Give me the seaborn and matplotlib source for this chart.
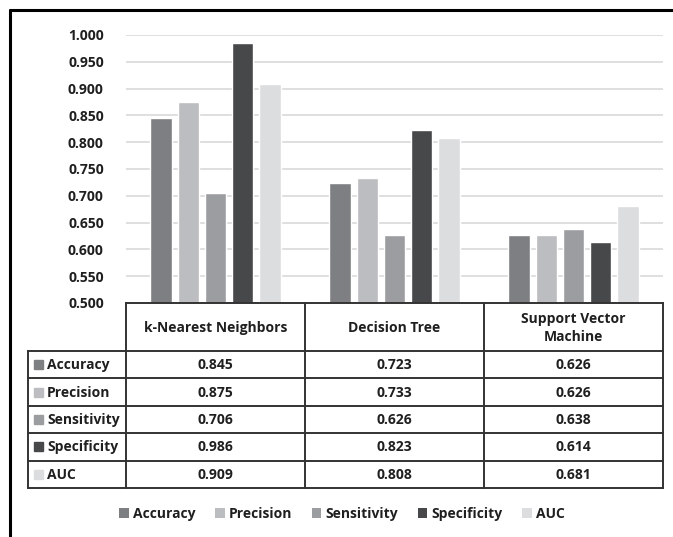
import matplotlib
matplotlib.use("Agg")
import matplotlib.pyplot as plt
from matplotlib.patches import Patch, Rectangle
from matplotlib.lines import Line2D
import seaborn as sns
import pandas as pd

# Model results
models = ["k-Nearest Neighbors", "Decision Tree", "Support Vector Machine"]
model_headers = ["k-Nearest Neighbors", "Decision Tree", "Support Vector\nMachine"]
metrics = ["Accuracy", "Precision", "Sensitivity", "Specificity", "AUC"]
accuracy = [0.845, 0.723, 0.626]
precision = [0.875, 0.733, 0.626]
sensitivity = [0.706, 0.626, 0.638]
specificity = [0.986, 0.823, 0.614]
auc = [0.909, 0.808, 0.681]
y_ticks = [0.500, 0.550, 0.600, 0.650, 0.700, 0.750, 0.800, 0.850, 0.900, 0.950, 1.000]

colors = ["#7e7f82", "#bcbdc0", "#9c9da0", "#47484a", "#dcdddf"]
TXT = "#1f1f1f"
LINE = "#333333"
FS = 10

values = {"Accuracy": accuracy, "Precision": precision, "Sensitivity": sensitivity,
          "Specificity": specificity, "AUC": auc}
rows = []
for m in metrics:
    for i, mod in enumerate(models):
        rows.append({"Model": mod, "Metric": m, "Value": values[m][i]})
df = pd.DataFrame(rows)

sns.set_theme(style="white")
plt.rcParams["font.family"] = ["Open Sans", "DejaVu Sans"]
plt.rcParams["font.weight"] = "bold"

W, H = 673, 537
fig = plt.figure(figsize=(W / 100, H / 100), dpi=100)

def fbox(x0, y0, x1, y1):
    # pixel box (top-left origin) -> figure fraction rect
    return [x0 / W, 1 - y1 / H, (x1 - x0) / W, (y1 - y0) / H]

ax = fig.add_axes(fbox(126, 35, 663, 303))
sns.barplot(data=df, x="Model", y="Value", hue="Metric", order=models,
            hue_order=metrics, palette=colors, width=0.76, gap=0.22,
            saturation=1, legend=False, ax=ax)
ax.set_ylim(0.5, 1.0)
ax.set_xlim(-0.5, 2.5)
ax.set_yticks(y_ticks)
ax.set_yticklabels([f"{t:.3f}" for t in y_ticks], fontsize=FS, fontweight="bold", color=TXT)
ax.set_xticks([])
ax.set_xlabel("")
ax.set_ylabel("")
ax.tick_params(axis="y", length=0, pad=16)
ax.yaxis.grid(True, color="#d9d9d9", linewidth=1.2)
ax.set_axisbelow(True)
for s in ax.spines.values():
    s.set_visible(False)

# Data table beneath the bars
label_w = 98 / 179  # width of the row-label column in category units
header_h = 48
row_h = 27.4
tab = fig.add_axes(fbox(28, 303, 663, 303 + header_h + row_h * len(metrics)))
tab.set_xlim(-0.5 - label_w, 2.5)
tab.set_ylim(header_h + row_h * len(metrics), 0)
tab.axis("off")
xl = -0.5 - label_w
bottom = header_h + row_h * len(metrics)
lk = dict(color=LINE, linewidth=1.4, solid_capstyle="projecting", clip_on=False)
tab.plot([-0.5, 2.5], [0, 0], **lk)
for xb in [-0.5, 0.5, 1.5, 2.5]:
    tab.plot([xb, xb], [0, bottom], **lk)
tab.plot([xl, xl], [header_h, bottom], **lk)
for r in range(len(metrics) + 1):
    yb = header_h + r * row_h
    tab.plot([xl, 2.5], [yb, yb], **lk)
for i, h in enumerate(model_headers):
    tab.text(i, header_h / 2 + 1, h, ha="center", va="center", fontsize=FS,
             fontweight="bold", color=TXT, linespacing=1.35)
for r, m in enumerate(metrics):
    yc = header_h + (r + 0.5) * row_h
    tab.add_patch(Rectangle((xl + 6 / 179, yc - 4.5), 8.5 / 179, 9, color=colors[r],
                            clip_on=False))
    tab.text(xl + 19 / 179, yc + 0.5, m, ha="left", va="center", fontsize=FS,
             fontweight="bold", color=TXT)
    for i in range(len(models)):
        tab.text(i, yc + 0.5, f"{values[m][i]:.3f}", ha="center", va="center",
                 fontsize=FS, fontweight="bold", color=TXT)

# Legend
handles = [Patch(facecolor=c, edgecolor="none", label=m) for m, c in zip(metrics, colors)]
fig.legend(handles=handles, loc="center", bbox_to_anchor=(342 / W, 1 - 514 / H),
           ncol=5, frameon=False, handlelength=0.7, handleheight=0.7,
           handletextpad=0.3, columnspacing=1.4,
           prop={"size": FS, "weight": "bold"}, labelcolor=TXT)

# Outer frame (top and left edges)
fig.add_artist(Line2D([10 / W, 1.0], [1 - 10 / H, 1 - 10 / H], color="black",
                      linewidth=2.2, transform=fig.transFigure))
fig.add_artist(Line2D([10 / W, 10 / W], [1 - 10 / H, 0.0], color="black",
                      linewidth=2.2, transform=fig.transFigure))

fig.savefig("out.png", dpi=100, facecolor="white")
